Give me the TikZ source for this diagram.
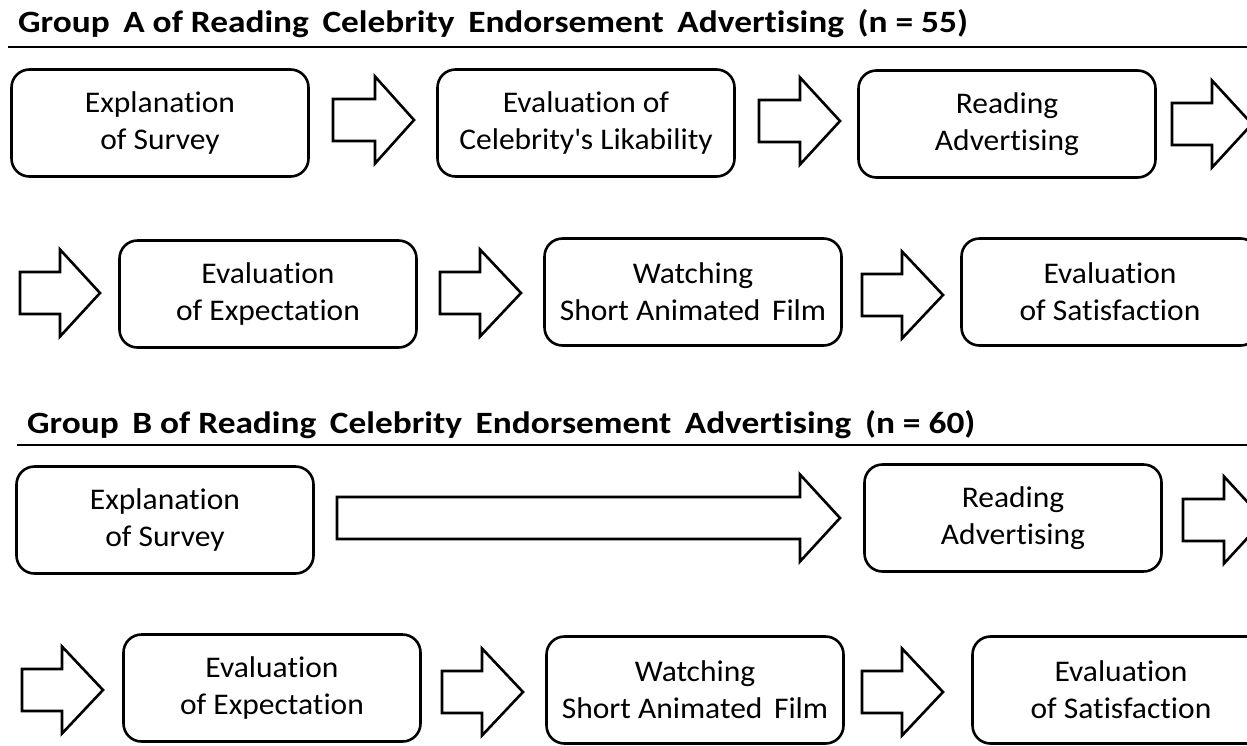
\documentclass[tikz,border=0pt]{standalone}
\usepackage{fontspec}
\setmainfont{Carlito}[FakeStretch=1.05, Ligatures={NoCommon}]
\newfontfamily\headfont{Carlito}[FakeStretch=1.14, Ligatures={NoCommon}]

% block arrow: tail x, head-base x, tip x, centre y
\newcommand\blockarrow[4]{%
  \draw[blockarrow] (#1,#4-21) -- (#2,#4-21) -- (#2,#4-43.5) -- (#3,#4)
    -- (#2,#4+43.5) -- (#2,#4+21) -- (#1,#4+21) -- cycle;}
\newcommand\wgap{\hspace{0.18em}}

\begin{document}
\begin{tikzpicture}[x=1pt,y=-1pt,
  stepbox/.style={draw, line width=2.6pt, rounded corners=18pt,
    minimum width=297pt, minimum height=107pt, align=center,
    font=\fontsize{30}{37}\selectfont, inner sep=0pt},
  blockarrow/.style={draw, line width=2.6pt, line join=miter, fill=white},
  headline/.style={font=\headfont\bfseries\fontsize{31}{36}\selectfont,
    anchor=base west, inner sep=0pt},
  rulebar/.style={line width=2.8pt}]
\useasboundingbox (0,0) rectangle (1247,745);
\clip (0,0) rectangle (1247,745);

% ---------- Group A ----------
\node[headline] (titleA) at (18,32)
  {Group\wgap{} A of Reading\wgap{} Celebrity\wgap{} Endorsement\wgap{} Advertising\wgap{} (n = 55)};
\draw[rulebar] (8,47) -- (1247,47);

\node[stepbox] (a1) at (160,123) {Explanation\\of Survey};
\node[stepbox] (a2) at (586,123) {Evaluation of\\Celebrity\textquotesingle s Likability};
\node[stepbox] (a3) at (1007,124) {Reading\\Advertising};
\node[stepbox] (a4) at (268,294) {Evaluation\\of Expectation};
\node[stepbox] (a5) at (693,292) {Watching\\Short Animated\hspace{0.15em} Film};
\node[stepbox] (a6) at (1110,292) {Evaluation\\of Satisfaction};

\blockarrow{333}{375}{414}{120}
\blockarrow{759}{800}{840}{121}
\blockarrow{1172}{1212}{1252}{124}
\blockarrow{20}{60}{100}{293}
\blockarrow{440}{480}{521}{293}
\blockarrow{862}{902}{943}{295}

% ---------- Group B ----------
\node[headline] (titleB) at (27,433)
  {Group\wgap{} B of Reading\wgap{} Celebrity\wgap{} Endorsement\wgap{} Advertising\wgap{} (n = 60)};
\draw[rulebar] (17,445) -- (1247,445);

\node[stepbox] (b1) at (165,520) {Explanation\\of Survey};
\node[stepbox] (b2) at (1013,518) {Reading\\Advertising};
\node[stepbox] (b3) at (272,688) {Evaluation\\of Expectation};
\node[stepbox] (b4) at (695,690) {Watching\\Short Animated\hspace{0.15em} Film};
\node[stepbox] (b5) at (1121,690) {Evaluation\\of Satisfaction};

\blockarrow{337}{800}{840}{518}
\blockarrow{1183}{1224}{1264}{520}
\blockarrow{22}{62}{103}{690}
\blockarrow{442}{482}{523}{692}
\blockarrow{862}{902}{943}{692}
\end{tikzpicture}
\end{document}
